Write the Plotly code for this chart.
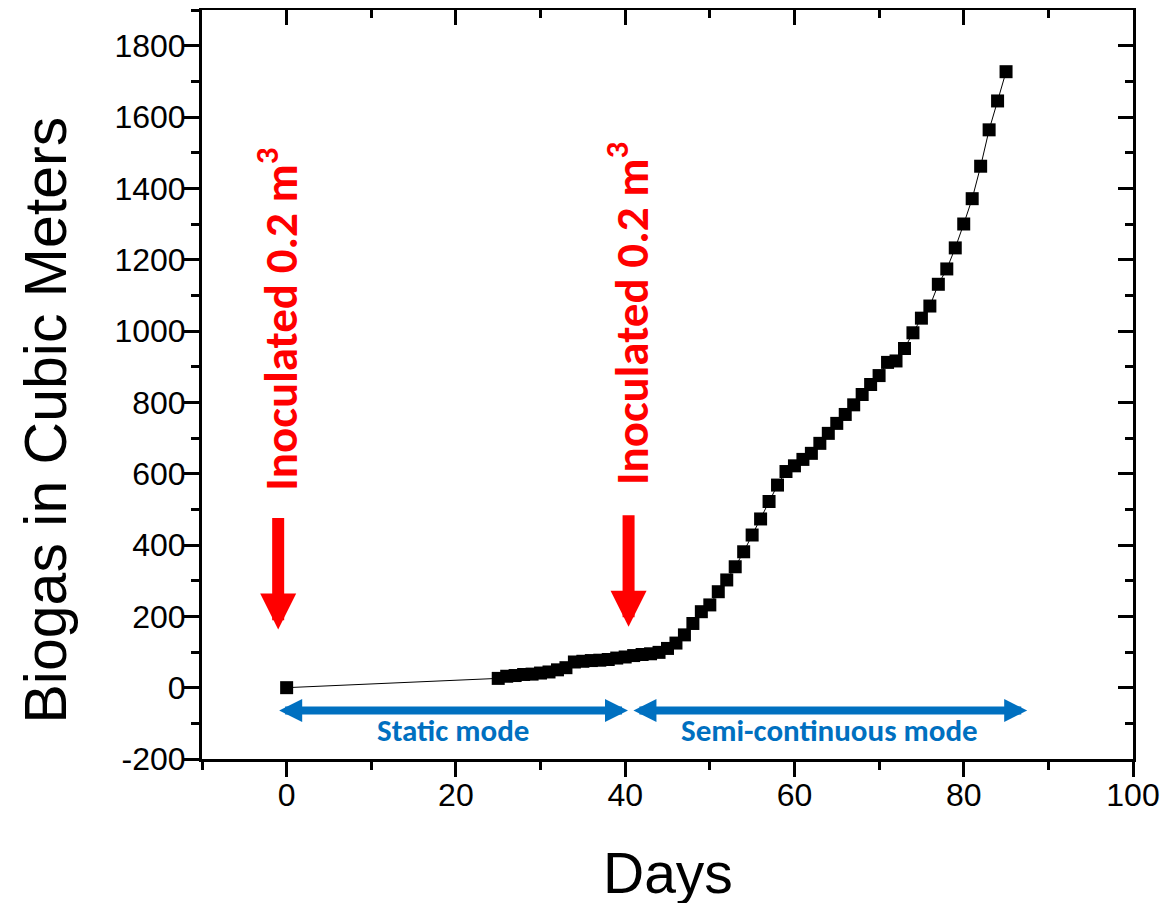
import plotly.graph_objects as go

# ---- data ----
days = [0, 25, 26, 27, 28, 29, 30, 31, 32, 33, 34, 35, 36, 37, 38, 39, 40,
        41, 42, 43, 44, 45, 46, 47, 48, 49, 50, 51, 52, 53, 54, 55, 56, 57,
        58, 59, 60, 61, 62, 63, 64, 65, 66, 67, 68, 69, 70, 71, 72, 73, 74,
        75, 76, 77, 78, 79, 80, 81, 82, 83, 84, 85]
biogas = [0, 26, 32, 34, 37, 38, 41, 44, 50, 56, 72, 74, 76, 77, 79, 83, 86,
          90, 93, 95, 99, 110, 125, 148, 180, 213, 232, 269, 302, 339, 381, 428, 473, 522,
          568, 606, 622, 640, 657, 685, 713, 741, 766, 793, 822, 850, 875, 912, 916, 951, 995,
          1036, 1070, 1131, 1174, 1233, 1300, 1371, 1462, 1564, 1645, 1727]

y_tickvals = [-200, 0, 200, 400, 600, 800, 1000, 1200, 1400, 1600, 1800]
y_ticktext = ["-200", "0", "200", "400", "600", "800", "1000", "1200", "1400", "1600", "1800"]

x_title = "Days"
y_title = "Biogas in Cubic Meters"
inoc_days = [-1.0, 40.4]
inoc_label = "Inoculated 0.2 m<sup>3</sup>"
mode_labels = ["Static mode", "Semi-continuous mode"]
mode_spans = [(-1.06, 40.33), (40.8, 87.5)]

RED = "#FF0000"
BLUE = "#0070C0"
AX_FONT = "Liberation Sans, Arial, sans-serif"
ANN_FONT = "Carlito, Open Sans, sans-serif"

fig = go.Figure()
fig.add_trace(go.Scatter(
    x=days, y=biogas, mode="lines+markers",
    line=dict(color="black", width=1),
    marker=dict(symbol="square", size=13, color="black"),
    showlegend=False, hoverinfo="x+y",
))
# empty trace to host the mirrored (inside-tick) top/right axes
fig.add_trace(go.Scatter(x=[], y=[], xaxis="x2", yaxis="y2", showlegend=False))

XR = [-10, 100]
YR = [-200, 1900]

fig.update_layout(
    width=1168, height=903,
    margin=dict(l=194, r=43, t=2, b=152),
    paper_bgcolor="white", plot_bgcolor="white",
    font=dict(family=AX_FONT, color="black"),
    xaxis=dict(
        range=XR, tick0=0, dtick=20, ticks="outside", ticklen=15, tickwidth=3,
        tickcolor="black", showline=True, linewidth=3, linecolor="black",
        showgrid=False, zeroline=False, automargin=False,
        tickfont=dict(size=32, family=AX_FONT), ticklabelstandoff=-9,
        minor=dict(dtick=10, tick0=0, ticks="outside", ticklen=8, tickwidth=3, tickcolor="black"),
    ),
    yaxis=dict(
        range=YR, tickmode="array", tickvals=y_tickvals, ticktext=y_ticktext,
        ticks="outside", ticklen=15, tickwidth=3,
        tickcolor="black", showline=True, linewidth=3, linecolor="black",
        showgrid=False, zeroline=False, automargin=False,
        tickfont=dict(size=32, family=AX_FONT), ticklabelstandoff=-8,
        minor=dict(dtick=100, tick0=0, ticks="outside", ticklen=8, tickwidth=3, tickcolor="black"),
    ),
    xaxis2=dict(
        range=XR, overlaying="x", side="top", anchor="y2", tick0=0, dtick=20,
        ticks="inside", ticklen=15, tickwidth=3, tickcolor="black",
        showline=True, linewidth=3, linecolor="black", showticklabels=False,
        showgrid=False, zeroline=False,
        minor=dict(dtick=10, tick0=0, ticks="inside", ticklen=8, tickwidth=3, tickcolor="black"),
    ),
    yaxis2=dict(
        range=YR, overlaying="y", side="right", anchor="x2", tick0=0, dtick=200,
        ticks="inside", ticklen=15, tickwidth=3, tickcolor="black",
        showline=True, linewidth=3, linecolor="black", showticklabels=False,
        showgrid=False, zeroline=False,
        minor=dict(dtick=100, tick0=0, ticks="inside", ticklen=8, tickwidth=3, tickcolor="black"),
    ),
)

# axis titles (annotations, for exact placement)
fig.add_annotation(x=0, y=0.5, xref="paper", yref="paper", text=y_title, textangle=-90,
                   showarrow=False, xanchor="center", yanchor="middle", xshift=-157, yshift=-36,
                   font=dict(size=59, family=AX_FONT, color="black"))
fig.add_annotation(x=0.5, y=0, xref="paper", yref="paper", text=x_title,
                   showarrow=False, xanchor="center", yanchor="middle", yshift=-114, borderpad=0,
                   font=dict(size=57, family=AX_FONT, color="black"))

# red vertical labels and arrows
label_y = [1032, 1049]
tip_y = [163, 171]
for d, ly, ty in zip(inoc_days, label_y, tip_y):
    fig.add_annotation(x=d, y=ly, xref="x", yref="y", text=inoc_label, textangle=-90,
                       showarrow=False, font=dict(size=47, color=RED, family=ANN_FONT, weight="bold"))
    fig.add_annotation(x=d, y=ty, xref="x", yref="y", text="", showarrow=True,
                       ax=0, ay=-113, arrowhead=2, arrowsize=0.6, arrowwidth=12,
                       arrowcolor=RED, standoff=0)

# blue double arrows and mode labels
for (x0, x1), lab in zip(mode_spans, mode_labels):
    fig.add_annotation(x=x1, y=-64, ax=x0, ay=-64, xref="x", yref="y", axref="x", ayref="y",
                       text="", showarrow=True, arrowside="end+start",
                       arrowhead=2, startarrowhead=2, arrowsize=0.575, startarrowsize=0.575,
                       arrowwidth=8, arrowcolor=BLUE, standoff=0, startstandoff=0)
    fig.add_annotation(x=(x0 + x1) / 2, y=-120, xref="x", yref="y", text=lab, showarrow=False,
                       font=dict(size=31, color=BLUE, family=ANN_FONT, weight="bold"))

fig.write_html("out.html")
